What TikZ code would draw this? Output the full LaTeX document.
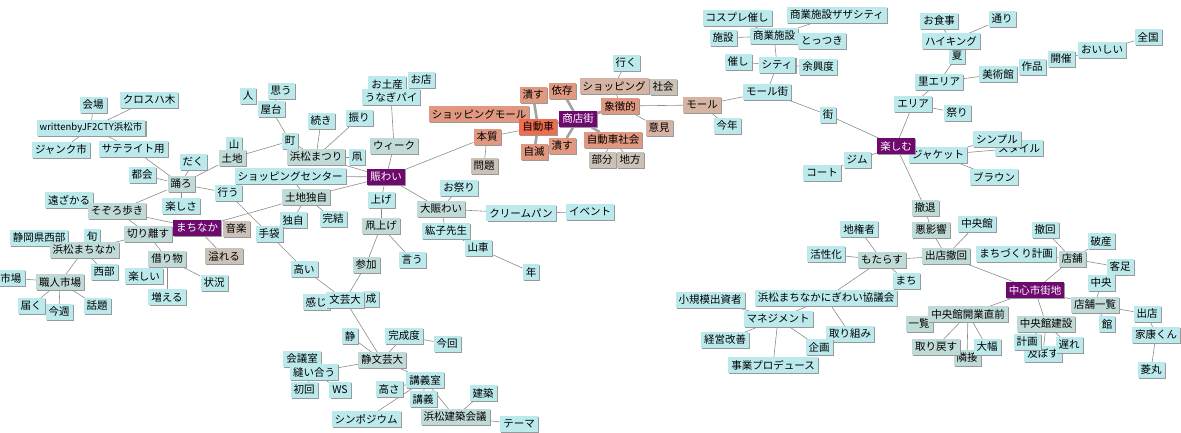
\documentclass[tikz,border=0pt]{standalone}
\usepackage{fontspec}
\setmainfont{Noto Sans CJK JP}
\usetikzlibrary{shadows,backgrounds}
\definecolor{kwcyan}{RGB}{187,233,236}
\definecolor{kwgray}{RGB}{192,218,216}
\definecolor{kwbeige}{RGB}{204,193,182}
\definecolor{kwtan}{RGB}{214,180,164}
\definecolor{kwsalmon}{RGB}{224,152,128}
\definecolor{kwred}{RGB}{240,108,78}
\definecolor{kwhub}{RGB}{110,10,110}
\definecolor{linegray}{RGB}{140,140,140}
\tikzset{
  kw/.style={fill=kwcyan,inner xsep=3pt,inner ysep=2pt,minimum height=15.5pt,
    font=\fontsize{10.5}{12}\selectfont,
    drop shadow={shadow xshift=1.2pt,shadow yshift=-1.2pt,fill=black!40,opacity=1}},
  kwg/.style={kw,fill=kwgray},
  kwb/.style={kw,fill=kwbeige},
  kwt/.style={kw,fill=kwtan},
  kws/.style={kw,fill=kwsalmon},
  kwr/.style={kw,fill=kwred},
  hub/.style={kw,fill=kwhub,text=white},
  link/.style={draw=linegray,line width=0.6pt},
  heavy/.style={draw=linegray!80,line width=2.6pt}
}
\begin{document}
\begin{tikzpicture}[x=1pt,y=-1pt]
\useasboundingbox (0,0) rectangle (1181,432);
% left part
\node[kw] (kaijo) at (93,105) {会場};
\node[kw] (cross) at (149,100) {クロスハ木};
\node[kw,font=\fontsize{9.5}{11}\selectfont] (written) at (91,128) {writtenbyJF2CTY浜松市};
\node[kw] (junk) at (61,150) {ジャンク市};
\node[kw] (sat) at (133,149) {サテライト用};
\node[kw] (hito) at (248,96) {人};
\node[kw] (omou) at (281,91) {思う};
\node[kw] (yatai) at (271,109) {屋台};
\node[kw] (machi) at (290,141) {町};
\node[kw] (yama) at (234,145) {山};
\node[kwg] (tochi) at (232,158) {土地};
\node[kw] (daku) at (193,162) {だく};
\node[kw] (tokai) at (142,175) {都会};
\node[kwg] (odoro) at (181,184) {踊ろ};
\node[kw] (sc) at (290,176) {ショッピングセンター};
\node[kw] (tozakaru) at (69,200) {遠ざかる};
\node[kwg] (sozoro) at (117,211) {そぞろ歩き};
\node[kw] (tanoshisa) at (181,206) {楽しさ};
\node[kw] (okonau) at (228,193) {行う};
\node[kwg] (tochidokuji) at (306,197) {土地独自};
\node[kw] (dokuji) at (293,220) {独自};
\node[kw] (kanketsu) at (333,219) {完結};
\node[kwb] (ongaku) at (236,229) {音楽};
\node[hub] (machinaka) at (197,228) {まちなか};
\node[kw] (tebukuro) at (269,234) {手袋};
\node[kwg] (kiri) at (148,234) {切り離す};
\node[kw] (shizuoka) at (39,238) {静岡県西部};
\node[kw] (shun) at (92,237) {旬};
\node[kwg] (hmn) at (84,250) {浜松まちなか};
\node[kwb] (afureru) at (224,256) {溢れる};
\node[kwg] (karimono) at (167,259) {借り物};
\node[kw] (seibu) at (104,272) {西部};
\node[kw] (tanoshii) at (144,276) {楽しい};
\node[kw] (jokyo) at (214,283) {状況};
\node[kw] (ichiba) at (11,278) {市場};
\node[kwg] (shokunin) at (60,282) {職人市場};
\node[kw] (fueru) at (167,297) {増える};
\node[kw] (todoku) at (31,306) {届く};
\node[kw] (konshu) at (59,312) {今週};
\node[kw] (wadai) at (97,306) {話題};
% middle part
\node[kw] (omiyage) at (387,84) {お土産};
\node[kw] (omise) at (421,80) {お店};
\node[kw] (unagi) at (391,97) {うなぎパイ};
\node[kw] (tsuzuki) at (321,121) {続き};
\node[kw] (furi) at (359,118) {振り};
\node[kwg] (matsuri) at (316,157) {浜松まつり};
\node[kw] (tako) at (357,157) {凧};
\node[kwg] (week) at (394,146) {ウィーク};
\node[hub] (nigiwai) at (386,177) {賑わい};
\node[kws] (small) at (479,114) {ショッピングモール};
\node[kws] (honshitsu) at (487,137) {本質};
\node[kwb] (mondai) at (484,166) {問題};
\node[kw] (age) at (381,200) {上げ};
\node[kw] (omatsuri) at (459,188) {お祭り};
\node[kwg] (onigiwai) at (441,209) {大賑わい};
\node[kw] (cream) at (521,213) {クリームパン};
\node[kw] (event) at (590,212) {イベント};
\node[kwg] (takoage) at (381,226) {凧上げ};
\node[kw] (hiroko) at (446,231) {紘子先生};
\node[kw] (dashi) at (478,248) {山車};
\node[kw] (toshi) at (531,272) {年};
\node[kw] (iu) at (412,260) {言う};
\node[kwg] (sanka) at (366,265) {参加};
\node[kw] (takai) at (304,269) {高い};
\node[kw] (kanji) at (316,302) {感じ};
\node[kw] (sei) at (371,299) {成};
\node[kw] (bungei) at (345,300) {文芸大};
\node[kw] (shizu) at (350,336) {静};
\node[kw] (kanseido) at (404,336) {完成度};
\node[kw] (konkai) at (447,344) {今回};
\node[kw] (kaigi) at (302,359) {会議室};
\node[kwg] (shizubungei) at (382,360) {静文芸大};
\node[kw] (nuiau) at (314,372) {縫い合う};
\node[kw] (shokai) at (304,390) {初回};
\node[kw] (ws) at (340,390) {WS};
\node[kw] (kogishitsu) at (425,380) {講義室};
\node[kw] (takasa) at (389,389) {高さ};
\node[kw] (kogi) at (423,399) {講義};
\node[kw] (kenchiku) at (483,393) {建築};
\node[kw] (sympo) at (366,419) {シンポジウム};
\node[kwg] (hkk) at (455,417) {浜松建築会議};
\node[kw] (theme) at (519,424) {テーマ};
% shotengai part
\node[kw] (iku) at (626,63) {行く};
\node[kwt] (shopping) at (614,86) {ショッピング};
\node[kwb] (shakai) at (663,87) {社会};
\node[kws] (izon) at (562,91) {依存};
\node[kws] (tsubusu1) at (533,95) {潰す};
\node[kws] (shocho) at (620,106) {象徴的};
\node[kwt] (mall) at (702,105) {モール};
\node[hub] (shotengai) at (578,119) {商店街};
\node[kwr] (jidosha) at (538,127) {自動車};
\node[kwt] (iken) at (659,128) {意見};
\node[kws] (jshakai) at (613,140) {自動車社会};
\node[kws] (jimetsu) at (534,152) {自滅};
\node[kws] (tsubusu2) at (562,146) {潰す};
\node[kwb] (bubun) at (602,160) {部分};
\node[kwb] (chiho) at (630,160) {地方};
\node[kw] (kotoshi) at (727,126) {今年};
% right upper part
\node[kw] (cosplay) at (737,18) {コスプレ催し};
\node[kw] (zaza) at (837,15) {商業施設ザザシティ};
\node[kw] (shisetsu) at (723,38) {施設};
\node[kw] (shogyo) at (774,36) {商業施設};
\node[kw] (tottsuki) at (822,41) {とっつき};
\node[kw] (moyooshi) at (738,62) {催し};
\node[kw] (city) at (777,65) {シティ};
\node[kw] (yokyo) at (818,67) {余興度};
\node[kw] (mallgai) at (767,92) {モール街};
\node[kw] (gai) at (828,115) {街};
\node[kw] (area) at (913,104) {エリア};
\node[kw] (matsuri2) at (957,113) {祭り};
\node[kw] (satoarea) at (939,82) {里エリア};
\node[kw] (natsu) at (957,56) {夏};
\node[kw] (shokuji) at (939,21) {お食事};
\node[kw] (hiking) at (951,41) {ハイキング};
\node[kw] (dori) at (1002,19) {通り};
\node[kw] (bijutsu) at (998,74) {美術館};
\node[kw] (sakuhin) at (1032,67) {作品};
\node[kw] (kaisai) at (1061,59) {開催};
\node[kw] (oishii) at (1102,50) {おいしい};
\node[kw] (zenkoku) at (1148,37) {全国};
\node[kw] (style) at (1019,148) {スタイル};
\node[kw] (simple) at (997,139) {シンプル};
\node[kw] (jacket) at (938,155) {ジャケット};
\node[hub] (tanoshimu) at (896,146) {楽しむ};
\node[kw] (brown) at (994,177) {ブラウン};
\node[kw] (gym) at (857,160) {ジム};
\node[kw] (coat) at (822,173) {コート};
\node[kwg] (tettai) at (925,208) {撤退};
% right lower part
\node[kw] (chikensha) at (859,229) {地権者};
\node[kwg] (akueikyo) at (931,230) {悪影響};
\node[kw] (kasseika) at (826,254) {活性化};
\node[kwg] (motarasu) at (882,260) {もたらす};
\node[kwg] (shutten) at (946,256) {出店撤回};
\node[kw] (machi2) at (906,281) {まち};
\node[kw] (kyogikai) at (826,298) {浜松まちなかにぎわい協議会};
\node[kw] (shokibo) at (710,300) {小規模出資者};
\node[kw] (mgmt) at (778,319) {マネジメント};
\node[kw] (keiei) at (725,340) {経営改善};
\node[kw] (torikumi) at (850,334) {取り組み};
\node[kw] (kikaku) at (819,347) {企画};
\node[kw] (jigyo) at (773,365) {事業プロデュース};
\node[kwg] (ichiran) at (919,324) {一覧};
\node[kwg] (chuokaigyo) at (968,314) {中央館開業直前};
\node[kwg] (rinsetsu) at (967,358) {隣接};
\node[kwg] (torimodosu) at (936,347) {取り戻す};
\node[kw] (ohaba) at (987,347) {大幅};
\node[kw] (chuokan) at (977,224) {中央館};
\node[kw] (tekkai) at (1045,230) {撤回};
\node[kw] (hasan) at (1101,241) {破産};
\node[kw] (machizukuri) at (1016,254) {まちづくり計画};
\node[kwg] (tenpo) at (1072,259) {店舗};
\node[kw] (kyakuashi) at (1120,267) {客足};
\node[kw] (chuo) at (1101,283) {中央};
\node[hub] (chushin) at (1035,290) {中心市街地};
\node[kwg] (tenpoichiran) at (1095,305) {店舗一覧};
\node[kw] (shutten2) at (1147,314) {出店};
\node[kw] (kan) at (1107,324) {館};
\node[kwg] (chuokensetsu) at (1046,324) {中央館建設};
\node[kw] (oyobosu) at (1043,354) {及ぼす};
\node[kw] (keikaku) at (1027,342) {計画};
\node[kw] (okure) at (1069,345) {遅れ};
\node[kw] (ieyasu) at (1156,335) {家康くん};
\node[kw] (hishimaru) at (1151,370) {菱丸};
% links
\begin{scope}[on background layer]
\foreach \a/\b in {kaijo/written,cross/written,written/junk,written/sat,sat/odoro,
  tokai/odoro,daku/odoro,odoro/tochi,odoro/okonau,odoro/sozoro,odoro/tanoshisa,
  yama/tochi,tochi/machi,machi/yatai,yatai/hito,yatai/omou,machi/matsuri,
  matsuri/tsuzuki,matsuri/furi,matsuri/tako,matsuri/nigiwai,week/unagi,
  unagi/omiyage,unagi/omise,week/nigiwai,nigiwai/honshitsu,honshitsu/mondai,
  honshitsu/jidosha,small/jidosha,sc/nigiwai,sc/tochidokuji,tochidokuji/nigiwai,
  tochidokuji/machinaka,tochidokuji/dokuji,tochidokuji/kanketsu,nigiwai/age,
  age/takoage,takoage/sanka,takoage/iu,sanka/bungei,nigiwai/onigiwai,
  onigiwai/omatsuri,onigiwai/cream,cream/event,onigiwai/hiroko,hiroko/dashi,
  dashi/toshi,okonau/tebukuro,tebukuro/takai,takai/bungei,bungei/kanji,bungei/sei,
  bungei/shizubungei,shizubungei/shizu,shizubungei/kanseido,kanseido/konkai,
  shizubungei/kogishitsu,shizubungei/nuiau,nuiau/kaigi,nuiau/shokai,nuiau/ws,
  kogishitsu/takasa,kogishitsu/kogi,kogishitsu/hkk,kogishitsu/sympo,hkk/kenchiku,
  hkk/theme,sozoro/machinaka,machinaka/kiri,machinaka/ongaku,machinaka/afureru,
  kiri/karimono,karimono/tanoshii,karimono/fueru,karimono/jokyo,sozoro/tozakaru,
  sozoro/kiri,kiri/hmn,hmn/shizuoka,hmn/shun,hmn/seibu,hmn/shokunin,
  shokunin/ichiba,shokunin/todoku,shokunin/konshu,shokunin/wadai,
  shopping/iku,shopping/shakai,shopping/shocho,shocho/mall,shocho/iken,
  jshakai/bubun,jshakai/chiho,mall/kotoshi,mall/mallgai,
  mallgai/city,city/shogyo,city/moyooshi,city/yokyo,shogyo/cosplay,
  shogyo/shisetsu,shogyo/zaza,shogyo/tottsuki,mallgai/gai,gai/tanoshimu,
  tanoshimu/area,tanoshimu/gym,tanoshimu/jacket,tanoshimu/tettai,area/satoarea,
  area/matsuri2,satoarea/natsu,satoarea/bijutsu,natsu/hiking,hiking/shokuji,
  hiking/dori,bijutsu/sakuhin,sakuhin/kaisai,kaisai/oishii,oishii/zenkoku,
  jacket/simple,jacket/style,jacket/brown,gym/coat,tettai/akueikyo,
  akueikyo/shutten,shutten/motarasu,shutten/chuokan,shutten/chushin,
  motarasu/chikensha,motarasu/kasseika,motarasu/machi2,motarasu/kyogikai,
  kyogikai/mgmt,kyogikai/torikumi,shokibo/mgmt,mgmt/keiei,mgmt/jigyo,mgmt/kikaku,
  chushin/tenpo,chushin/tenpoichiran,chushin/chuokensetsu,chushin/chuokaigyo,
  tenpo/tekkai,tenpo/hasan,tenpo/machizukuri,tenpo/kyakuashi,tenpoichiran/chuo,
  tenpoichiran/kan,tenpoichiran/shutten2,shutten2/ieyasu,ieyasu/hishimaru,
  chuokensetsu/keikaku,chuokensetsu/oyobosu,chuokensetsu/okure,
  chuokaigyo/ichiran,chuokaigyo/torimodosu,chuokaigyo/rinsetsu,chuokaigyo/ohaba}
  \draw[link] (\a) -- (\b);
\foreach \a/\b in {tsubusu1/jidosha,izon/shotengai,jidosha/shotengai,
  jidosha/jimetsu,tsubusu2/shotengai,shotengai/jshakai,shotengai/shocho}
  \draw[heavy] (\a) -- (\b);
\end{scope}
\end{tikzpicture}
\end{document}
